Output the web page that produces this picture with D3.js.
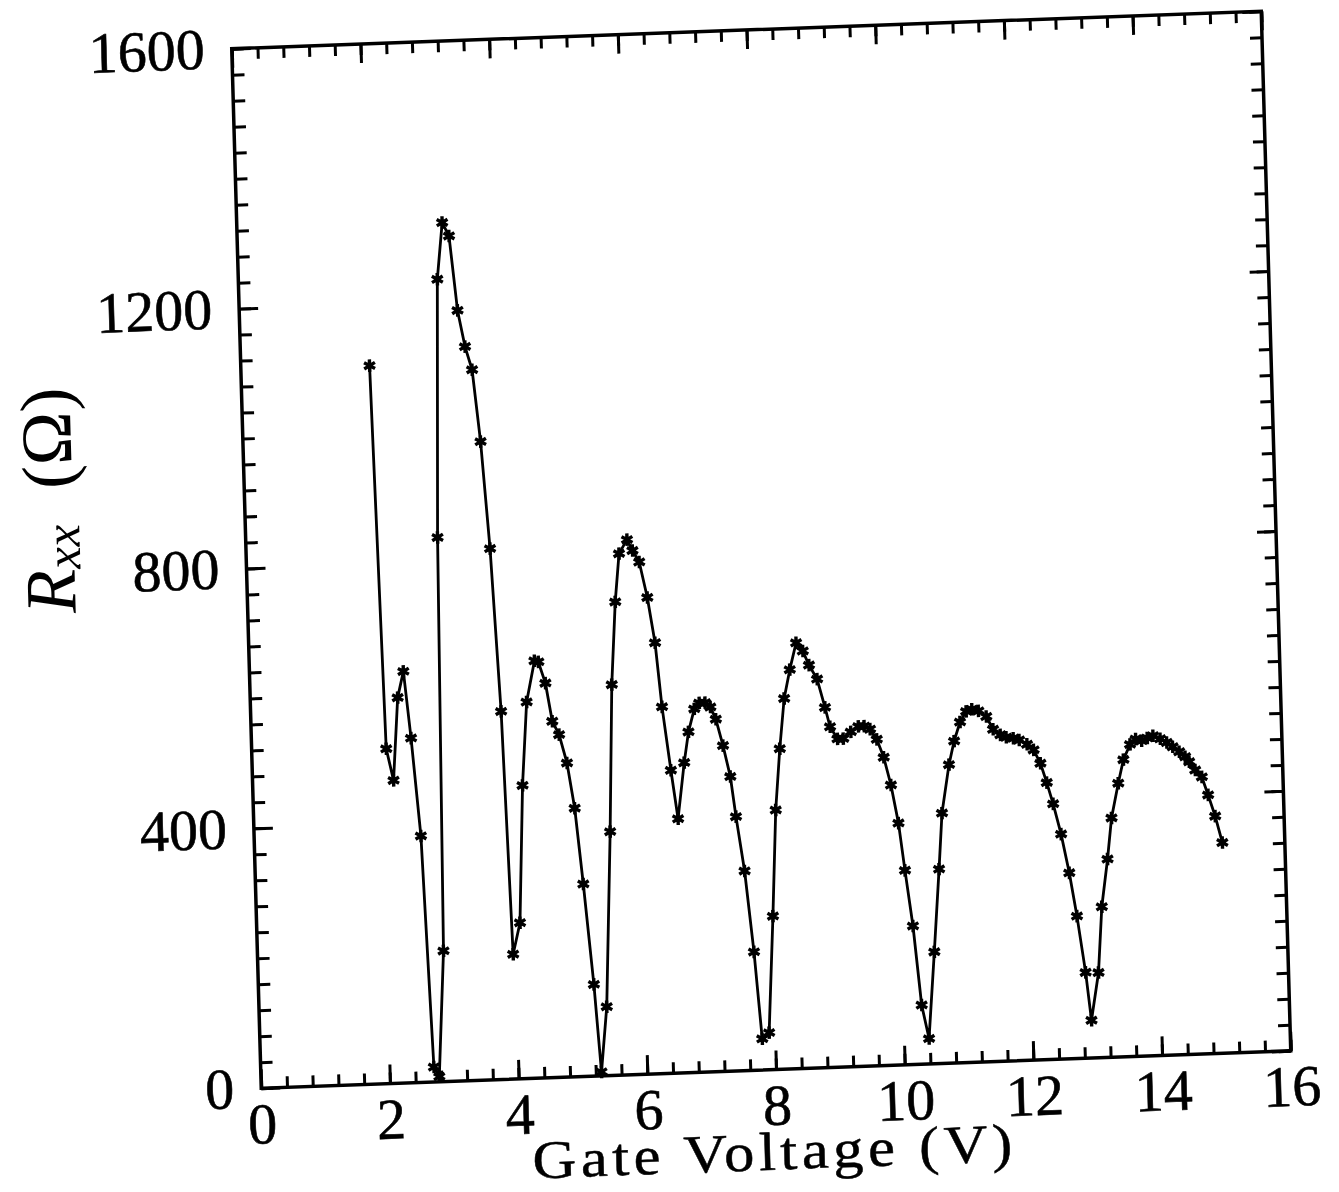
<!DOCTYPE html>
<html>
<head>
<meta charset="utf-8">
<script src="https://cdn.jsdelivr.net/npm/d3@7"></script>
<style>
    body { margin: 0; background: #fff; }
</style>
</head>
<body>
<div class="rxxChart"></div>
<script>
// #region Data
const gateVoltage = [2.00, 2.09, 2.19, 2.29, 2.39, 2.48, 2.59, 2.69, 2.77, 2.89,
    2.98, 3.09, 3.19, 3.29, 3.39, 3.49, 3.59, 3.69, 3.79, 3.89,
    3.97, 4.09, 4.19, 4.29, 4.43, 4.49, 4.59, 4.68, 4.78, 4.89,
    4.99, 5.09, 5.21, 5.29, 5.40, 5.53, 5.62, 5.71, 5.79, 5.92,
    6.00, 6.10, 6.21, 6.31, 6.39, 6.50, 6.59, 6.71, 6.79, 6.89,
    6.97, 7.06, 7.14, 7.22, 7.32, 7.42, 7.49, 7.60, 7.71, 7.80,
    7.91, 8.02, 8.11, 8.20, 8.29, 8.39, 8.50, 8.60, 8.69, 8.81,
    8.92, 8.99, 9.10, 9.19, 9.31, 9.43, 9.52, 9.61, 9.71, 9.81,
    9.91, 10.01, 10.09, 10.19, 10.29, 10.39, 10.51, 10.62, 10.69, 10.82,
    10.91, 11.01, 11.11, 11.20, 11.30, 11.42, 11.52, 11.63, 11.72, 11.83,
    11.92, 12.04, 12.14, 12.24, 12.33, 12.42, 12.53, 12.64, 12.74, 12.85,
    12.92, 13.05, 13.13, 13.24, 13.32, 13.44, 13.53, 13.64, 13.73, 13.82,
    13.91, 14.00, 14.11, 14.21, 14.30, 14.40, 14.49, 14.55, 14.64, 14.74,
    14.83, 14.93, 15.03];

const rxx = [1105, 515, 466, 593, 633, 530, 379, 23, 8, 201,
    837, 1234, 1321, 1300, 1185, 1129, 1093, 982, 817, 566,
    192, 240, 451, 579, 642, 640, 607, 548, 527, 483,
    413, 296, 141, 6, 106, 375, 601, 728, 802, 823,
    806, 788, 733, 663, 564, 466, 391, 477, 524, 559,
    568, 568, 561, 542, 501, 453, 391, 307, 182, 48,
    57, 236, 399, 493, 570, 614, 655, 642, 620, 598,
    554, 524, 505, 505, 515, 523, 523, 518, 502, 474,
    431, 372, 299, 213, 91, 39, 172, 299, 385, 459,
    495, 524, 540, 543, 540, 531, 511, 502, 498, 496,
    493, 486, 477, 456, 426, 393, 346, 286, 219, 132,
    58, 131, 232, 305, 368, 421, 457, 480, 488, 485,
    489, 492, 487, 481, 474, 466, 458, 450, 437, 426,
    398, 365, 324];

const xMajorTicks = [0, 2, 4, 6, 8, 10, 12, 14, 16];
const xMinorTicks = d3.range(0, 16.01, 0.4);
const yMajorTicks = [0, 400, 800, 1200, 1600];
const yMinorTicks = d3.range(0, 1601, 40);
const xTitle = "Gate Voltage (V)";
// #endregion

// #region Main SVG
const svgWidth = 1339, svgHeight = 1192;
const W = 1030, H = 1040;          // plot frame in its own (unskewed) frame
const serif = "'Liberation Serif', 'DejaVu Serif', serif";

let svg = d3.select(".rxxChart")
    .append("svg")
    .attr("width", svgWidth)
    .attr("height", svgHeight);

// the scanned figure is slightly rotated / sheared
let gPlot = svg.append("g")
    .attr("class", "gPlot")
    .attr("transform", "matrix(" + (1029.5 / W) + "," + (-37.5 / W) + "," + (29.5 / H) + "," + (1039.5 / H) + ",231.75,48.75)");
// #endregion

// #region Scales && Axes
let xScale = d3.scaleLinear().domain([0, 16]).range([0, W]);
let yScale = d3.scaleLinear().domain([0, 1600]).range([H, 0]);

function styleAxis(g) {
    g.select(".domain").remove();
    g.selectAll("line").attr("stroke", "#000").attr("stroke-width", 3);
    g.selectAll("text").attr("fill", "#000").attr("font-family", serif).attr("font-size", 58)
        .attr("stroke", "#000").attr("stroke-width", 0.6);
}

// bottom
gPlot.append("g").attr("transform", "translate(0," + H + ")")
    .call(d3.axisBottom(xScale).tickValues(xMinorTicks).tickFormat("").tickSizeInner(-11).tickSizeOuter(0)).call(styleAxis);
gPlot.append("g").attr("transform", "translate(0," + H + ")")
    .call(d3.axisBottom(xScale).tickValues(xMajorTicks).tickFormat(d3.format("d")).tickSizeInner(-19).tickSizeOuter(0).tickPadding(14)).call(styleAxis);
// top
gPlot.append("g")
    .call(d3.axisTop(xScale).tickValues(xMinorTicks).tickFormat("").tickSizeInner(-11).tickSizeOuter(0)).call(styleAxis);
gPlot.append("g")
    .call(d3.axisTop(xScale).tickValues(xMajorTicks).tickFormat("").tickSizeInner(-19).tickSizeOuter(0)).call(styleAxis);
// left
gPlot.append("g")
    .call(d3.axisLeft(yScale).tickValues(yMinorTicks).tickFormat("").tickSizeInner(-12).tickSizeOuter(0)).call(styleAxis);
gPlot.append("g")
    .call(d3.axisLeft(yScale).tickValues(yMajorTicks).tickFormat(d3.format("d")).tickSizeInner(-19).tickSizeOuter(0).tickPadding(27)).call(styleAxis);
// right
gPlot.append("g").attr("transform", "translate(" + W + ",0)")
    .call(d3.axisRight(yScale).tickValues(yMinorTicks).tickFormat("").tickSizeInner(-12).tickSizeOuter(0)).call(styleAxis);
gPlot.append("g").attr("transform", "translate(" + W + ",0)")
    .call(d3.axisRight(yScale).tickValues(yMajorTicks).tickFormat("").tickSizeInner(-19).tickSizeOuter(0)).call(styleAxis);

// frame
gPlot.append("rect")
    .attr("x", 0).attr("y", 0).attr("width", W).attr("height", H)
    .attr("fill", "none").attr("stroke", "#000").attr("stroke-width", 3.5);
// #endregion

// #region Titles
// slightly wide, evenly spaced letters like the plotter font
gPlot.append("g")
    .attr("transform", "translate(" + (W / 2 - 6) + "," + (H + 100) + ") scale(1.12,1)")
    .append("text")
    .attr("class", "xTitle")
    .attr("text-anchor", "middle")
    .attr("font-family", serif)
    .attr("font-size", 54)
    .attr("stroke", "#000")
    .attr("stroke-width", 0.5)
    .attr("textLength", 480 / 1.12)
    .attr("lengthAdjust", "spacing")
    .text(xTitle);

let yTitle = gPlot.append("text")
    .attr("class", "yTitle")
    .attr("transform", "translate(-172,445) rotate(-90)")
    .attr("text-anchor", "middle")
    .attr("font-family", serif)
    .attr("font-size", 72);
yTitle.append("tspan").attr("font-style", "italic").text("R");
yTitle.append("tspan").attr("font-style", "italic").attr("font-size", 50).attr("dy", 6).text("xx");
yTitle.append("tspan").attr("dy", -6).text("\u2002(\u03A9)");
// #endregion

// #region Data line && markers
let points = gateVoltage.map((v, i) => ({ x: v, y: rxx[i] }));

let line = d3.line().x(d => xScale(d.x)).y(d => yScale(d.y));
gPlot.append("path")
    .datum(points)
    .attr("d", line)
    .attr("fill", "none")
    .attr("stroke", "#000")
    .attr("stroke-width", 2.8)
    .attr("stroke-linejoin", "round");

let star = d3.symbol().type(d3.symbolAsterisk).size(110);
let gMarkers = gPlot.append("g")
    .selectAll("g")
    .data(points)
    .enter()
    .append("g")
    .attr("transform", d => "translate(" + xScale(d.x) + "," + yScale(d.y) + ")");
gMarkers.append("path")
    .attr("d", star)
    .attr("fill", "none")
    .attr("stroke", "#000")
    .attr("stroke-width", 3.4);
gMarkers.append("circle")
    .attr("r", 3)
    .attr("fill", "#000");
// #endregion
</script>
</body>
</html>
